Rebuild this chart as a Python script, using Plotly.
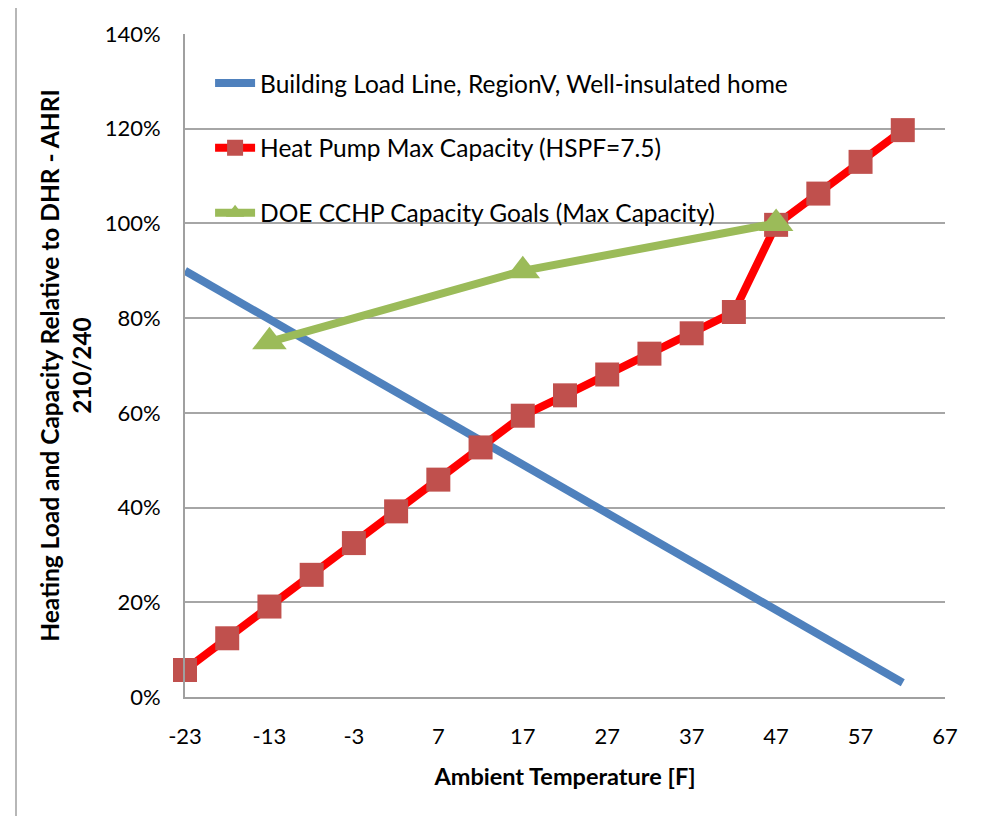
import plotly.graph_objects as go

# ---- data ----
x_ticks = [-23, -13, -3, 7, 17, 27, 37, 47, 57, 67]
x_tick_labels = [str(v) for v in x_ticks]

load_x = [-23, 62]
load_y = [0.90, 0.03]

hp_x = [-23, -18, -13, -8, -3, 2, 7, 12, 17, 22, 27, 32, 37, 42, 47, 52, 57, 62]
hp_y = [0.057, 0.124, 0.191, 0.258, 0.325, 0.392, 0.459, 0.527, 0.594, 0.637,
        0.681, 0.725, 0.768, 0.813, 0.997, 1.063, 1.130, 1.197]

doe_x = [-13, 17, 47]
doe_y = [0.75, 0.90, 1.00]

FONT = "Lato"

fig = go.Figure()
fig.add_trace(go.Scatter(
    x=load_x, y=load_y, mode="lines",
    name="Building Load Line, RegionV, Well-insulated home",
    line=dict(color="#4F81BD", width=8), legendgroup="a", cliponaxis=False))
fig.add_trace(go.Scatter(
    x=hp_x, y=hp_y, mode="lines+markers",
    name="Heat Pump Max Capacity (HSPF=7.5)",
    line=dict(color="#FF0000", width=8),
    marker=dict(symbol="square", size=24, color="#C0504D"), legendgroup="b",
    cliponaxis=False))
fig.add_trace(go.Scatter(
    x=doe_x, y=doe_y, mode="lines+markers",
    name="DOE CCHP Capacity Goals (Max Capacity)",
    line=dict(color="#9BBB59", width=8),
    marker=dict(symbol="triangle-up", size=30, color="#9BBB59"), legendgroup="c",
    cliponaxis=False))

# page body has an 8px offset; margins compensate
fig.update_layout(
    width=1005, height=816,
    margin=dict(l=177, r=68, t=26, b=127),
    paper_bgcolor="white", plot_bgcolor="white",
    font=dict(family=FONT, size=22, color="black"),
    showlegend=True,
    legend=dict(x=0.033, y=0.96, xanchor="left", yanchor="top",
                traceorder="grouped", tracegroupgap=30, itemwidth=40,
                bgcolor="rgba(0,0,0,0)", font=dict(family=FONT, size=24.5)),
    xaxis=dict(range=[-23, 67], tickvals=x_ticks, ticktext=x_tick_labels,
               showgrid=False, zeroline=False,
               showline=True, linecolor="#A0A0A0", linewidth=2,
               ticks="", ticklabelstandoff=19, tickfont=dict(size=22),
               title=dict(text="<b>Ambient Temperature [F]</b>", standoff=20,
                          font=dict(size=23.5))),
    yaxis=dict(range=[0, 1.4], dtick=0.2, tickformat=".0%", showgrid=True,
               gridcolor="#A6A6A6", gridwidth=1.5, zeroline=False,
               showline=True, linecolor="#A0A0A0", linewidth=2,
               ticks="", ticklabelstandoff=18, tickfont=dict(size=22),
               title=dict(text="<b>Heating Load and Capacity Relative to DHR - AHRI<br>210/240</b>",
                          standoff=6, font=dict(size=24.5))),
    shapes=[dict(type="rect", xref="paper", yref="paper",
                 x0=(16 - 185) / 760, x1=(1012 - 185) / 760,
                 y0=(697 - 822) / 663, y1=(697 - 5) / 663,
                 line=dict(color="#A0A0A0", width=1.5), layer="below")],
)

fig.write_html("out.html")
